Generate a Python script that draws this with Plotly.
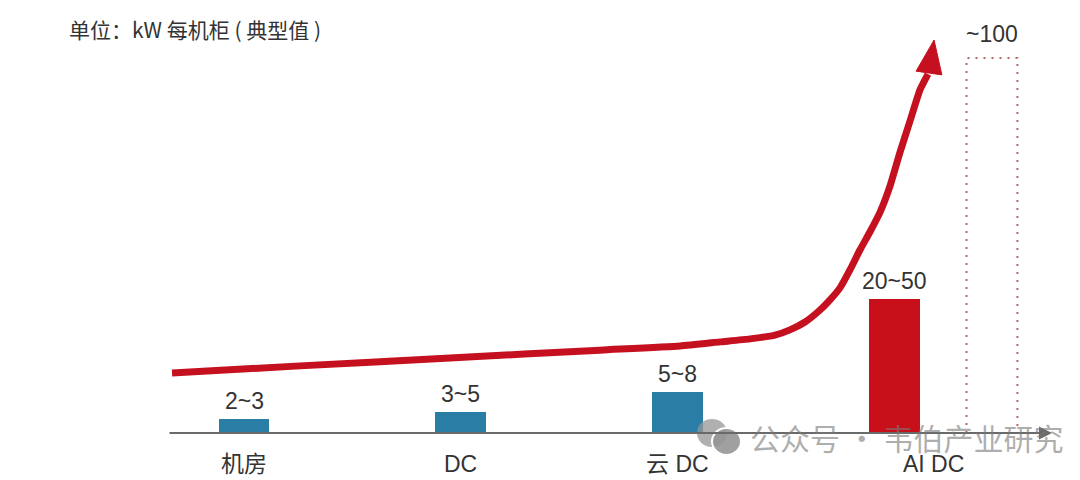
import plotly.graph_objects as go

# ---- data ----
categories = ["机房", "DC", "云 DC", "AI DC"]
cat_pos = [0, 1, 2, 3]
bar_heights = [3.7, 5.6, 10.9, 35.7]          # visual bar heights (chart units)
value_labels = ["2~3", "3~5", "5~8", "20~50"]
bar_colors = ["#2a7ea6", "#2a7ea6", "#2a7ea6", "#c8101a"]
label_pos = [0, 1, 2, 3.18]

future_pos = 3.45
future_height = 100
future_label = "~100"

# trend curve (red arrow)
trend_x = [-0.332, 0.258, 0.950, 1.642, 2.011, 2.196, 2.334, 2.449, 2.518, 2.588,
           2.657, 2.703, 2.749, 2.795, 2.841, 2.887, 2.934, 2.980, 3.026, 3.072,
           3.118, 3.155]
trend_y = [16.0, 17.9, 20.0, 22.1, 23.2, 24.3, 25.1, 26.1, 27.5, 29.6,
           32.8, 35.5, 38.7, 43.5, 48.8, 53.6, 58.9, 65.9, 74.9, 83.2,
           91.5, 95.7]
head_x = [3.100, 3.183, 3.219, 3.100]
head_y = [96.5, 104.8, 95.5, 96.5]

axis_start, axis_end = -0.3505, 3.727
bar_w = 0.235

title_text = "单位：kW 每机柜 ( 典型值 )"
watermark = "公众号 · 韦伯产业研究"

FONT = "Liberation Sans, Noto Sans CJK SC, sans-serif"

fig = go.Figure()

fig.add_trace(go.Bar(x=cat_pos, y=bar_heights, width=bar_w,
                     marker=dict(color=bar_colors, line=dict(width=0)),
                     hoverinfo="skip", showlegend=False))

# dotted future box
fx0, fx1 = future_pos - bar_w / 2, future_pos + bar_w / 2
fig.add_trace(go.Scatter(x=[fx0, fx0, fx1, fx1], y=[0, future_height, future_height, 0],
                         mode="lines", line=dict(color="#b06868", width=2, dash="2px,6px"),
                         hoverinfo="skip", showlegend=False))

# trend arrow
fig.add_trace(go.Scatter(x=trend_x, y=trend_y, mode="lines",
                         line=dict(color="#c5111f", width=7, shape="spline", smoothing=0.5),
                         hoverinfo="skip", showlegend=False))
fig.add_trace(go.Scatter(x=head_x, y=head_y, mode="lines", fill="toself",
                         fillcolor="#c5111f", line=dict(color="#c5111f", width=1),
                         hoverinfo="skip", showlegend=False))

annotations = []
# axis line with arrow
annotations.append(dict(x=axis_end, y=0, ax=axis_start, ay=0, xref="x", yref="y",
                        axref="x", ayref="y", showarrow=True, arrowhead=2, arrowsize=1.3,
                        arrowwidth=2, arrowcolor="#6a6a6a", text=""))
for p, h, t in zip(cat_pos, bar_heights, value_labels):
    annotations.append(dict(x=p, y=h, text=t, showarrow=False, yanchor="bottom", yshift=3,
                            font=dict(family=FONT, size=23, color="#333333")))
annotations.append(dict(x=future_pos, y=future_height, text=future_label, showarrow=False,
                        yanchor="bottom", yshift=9,
                        font=dict(family=FONT, size=23, color="#333333")))
for p, c in zip(label_pos, categories):
    annotations.append(dict(x=p, y=0, text=c, showarrow=False, yanchor="top", yshift=-16,
                            font=dict(family=FONT, size=23, color="#333333")))
annotations.append(dict(x=67 / 1080, y=1 - 29 / 480, xref="paper", yref="paper",
                        text=title_text, showarrow=False, xanchor="left", yanchor="middle",
                        font=dict(family="Noto Sans CJK SC, sans-serif", size=21, color="#333333")))
annotations.append(dict(x=748 / 1080, y=1 - 437 / 480, xref="paper", yref="paper",
                        text=watermark, showarrow=False, xanchor="left", yanchor="middle",
                        font=dict(family="Noto Sans CJK SC", size=30, color="rgba(120,120,120,0.6)")))

shapes = [
    dict(type="circle", xref="paper", yref="paper", x0=697 / 1080, x1=727 / 1080,
         y0=1 - 447 / 480, y1=1 - 419 / 480, fillcolor="rgba(150,150,150,0.75)", line=dict(width=0)),
    dict(type="circle", xref="paper", yref="paper", x0=712 / 1080, x1=741 / 1080,
         y0=1 - 455 / 480, y1=1 - 428 / 480, fillcolor="rgba(150,150,150,0.9)",
         line=dict(width=2, color="white")),
]

fig.update_layout(
    width=1080, height=480, margin=dict(l=0, r=0, t=0, b=0),
    paper_bgcolor="white", plot_bgcolor="white",
    xaxis=dict(range=[-244 / 216.8, (1080 - 244) / 216.8], visible=False, fixedrange=True),
    yaxis=dict(range=[-47 / 3.75, 433 / 3.75], visible=False, fixedrange=True),
    annotations=annotations, shapes=shapes, bargap=0,
)

fig.write_html("out.html", config={"displayModeBar": False},
               post_script="document.body.style.margin='0';document.body.style.overflow='hidden';")
